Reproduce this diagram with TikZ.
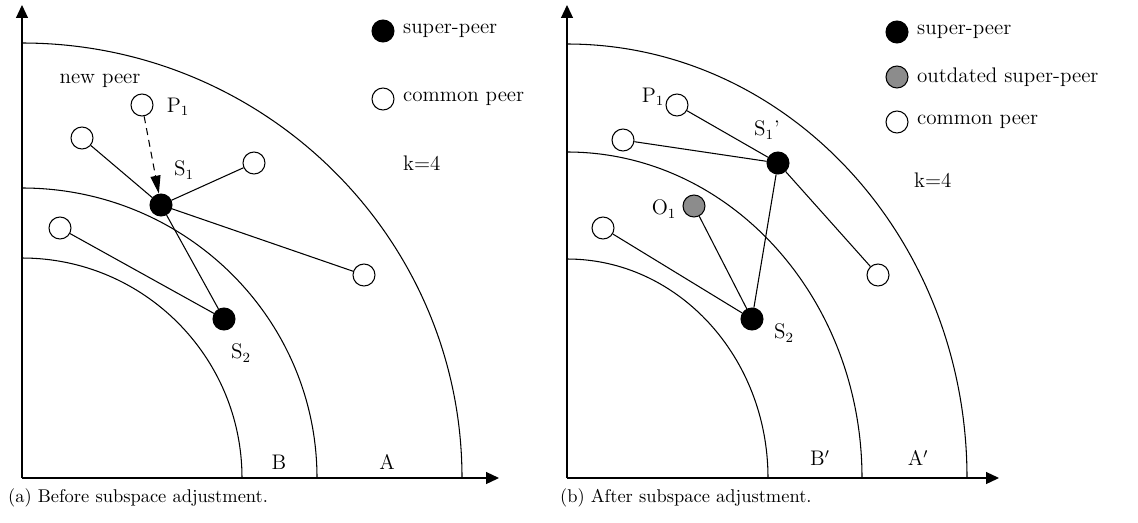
\documentclass[tikz,border=0pt]{standalone}
\usetikzlibrary{arrows.meta,positioning}
\begin{document}
\begin{tikzpicture}[x=0.02cm,y=0.02cm,
       peer/.style={
         circle,
         draw=black,
         fill=white,
         line width=0.6pt,
         inner sep=0pt,
         minimum size=0.44cm},
       super/.style={peer, fill=black},
       outdated/.style={peer, fill=black!45},
       lbl/.style={inner sep=1pt, font=\fontsize{12}{14}\selectfont},
       captxt/.style={inner sep=1pt, font=\fontsize{10.5}{12}\selectfont},
       axis/.style={line width=0.7pt, -{Triangle[length=0.26cm,width=0.24cm]}},
       ring/.style={line width=0.6pt},
       link/.style={line width=0.6pt},
       joinlink/.style={line width=0.6pt, dash pattern=on 1.4mm off 1mm, -{Triangle[length=0.36cm,width=0.2cm]}}
      ]
      \useasboundingbox (0,0) rectangle (1138,522);

      % (a) before the adjustment
      \begin{scope}[shift={(22,44)}]
      \coordinate (Oa) at (0,0);
      \coordinate (Ya) at (0,473);
      \coordinate (Xa) at (477,0);
      \draw[axis] (Oa) -- (Ya);
      \draw[axis] (Oa) -- (Xa);
      \draw[ring] (0,435) arc[start angle=90,end angle=0,x radius=440,y radius=435];
      \draw[ring] (0,290) arc[start angle=90,end angle=0,x radius=295,y radius=290];
      \draw[ring] (0,220) arc[start angle=90,end angle=0,x radius=220,y radius=220];

      \node[peer] (P1a) at (120,373) {};
      \node[lbl] (P1alab) at (156,371) {P$_1$};
      \node[lbl] (newlab) at (78,397) {new peer};
      \node[peer] (C1a) at (60,340) {};
      \node[super] (S1a) at (139,273) {};
      \node[lbl] (S1alab) at (162,308) {S$_1$};
      \node[peer] (C2a) at (232,315) {};
      \node[peer] (C3a) at (38,250) {};
      \node[peer] (C4a) at (342,203) {};
      \node[super] (S2a) at (202,159) {};
      \node[lbl] (S2alab) at (219,125) {S$_2$};
      \node[lbl] (Blab) at (257,16) {B};
      \node[lbl] (Alab) at (365,16) {A};

      \draw[joinlink] (P1a) -- (S1a);
      \draw[link] (C1a) -- (S1a);
      \draw[link] (S1a) -- (C2a);
      \draw[link] (S1a) -- (C4a);
      \draw[link] (S1a) -- (S2a);
      \draw[link] (C3a) -- (S2a);

      \node[super] (LSa) at (361,447) {};
      \node[lbl, right=0.13cm of LSa] (LSatext) {super-peer};
      \node[peer] (LCa) at (361,379) {};
      \node[lbl, right=0.13cm of LCa] (LCatext) {common peer};
      \node[lbl, anchor=west] (Ka) at (379,315) {k=4};

      \node[captxt, anchor=west] (capa) at (-16,-20) {(a) Before subspace adjustment.};
      \end{scope}

      % (b) after the adjustment
      \begin{scope}[shift={(567,44)}]
      \coordinate (Ob) at (0,0);
      \coordinate (Yb) at (0,473);
      \coordinate (Xb) at (432,0);
      \draw[axis] (Ob) -- (Yb);
      \draw[axis] (Ob) -- (Xb);
      \draw[ring] (0,434) arc[start angle=90,end angle=0,x radius=400,y radius=434];
      \draw[ring] (0,326) arc[start angle=90,end angle=0,x radius=295,y radius=326];
      \draw[ring] (0,219) arc[start angle=90,end angle=0,x radius=201,y radius=219];

      \node[peer] (P1b) at (110,373) {};
      \node[lbl] (P1blab) at (86,381) {P$_1$};
      \node[peer] (C1b) at (56,338) {};
      \node[super] (S1b) at (211,315) {};
      \node[lbl] (S1blab) at (200,348) {S$_1$'};
      \node[outdated] (O1b) at (127,272) {};
      \node[lbl] (O1blab) at (97,269) {O$_1$};
      \node[peer] (C3b) at (36,250) {};
      \node[peer] (C4b) at (311,203) {};
      \node[super] (S2b) at (185,159) {};
      \node[lbl] (S2blab) at (217,145) {S$_2$};
      \node[lbl] (Bblab) at (253,20) {B$'$};
      \node[lbl] (Ablab) at (351,20) {A$'$};

      \draw[link] (P1b) -- (S1b);
      \draw[link] (C1b) -- (S1b);
      \draw[link] (S1b) -- (C4b);
      \draw[link] (S1b) -- (S2b);
      \draw[link] (O1b) -- (S2b);
      \draw[link] (C3b) -- (S2b);

      \node[super] (LSb) at (330,446) {};
      \node[lbl, right=0.13cm of LSb] (LSbtext) {super-peer};
      \node[outdated] (LOb) at (330,401) {};
      \node[lbl, right=0.13cm of LOb] (LObtext) {outdated super-peer};
      \node[peer] (LCb) at (330,356) {};
      \node[lbl, right=0.13cm of LCb] (LCbtext) {common peer};
      \node[lbl, anchor=west] (Kb) at (345,298) {k=4};

      \node[captxt, anchor=west] (capb) at (-9,-20) {(b) After subspace adjustment.};
      \end{scope}

\end{tikzpicture}
\end{document}
